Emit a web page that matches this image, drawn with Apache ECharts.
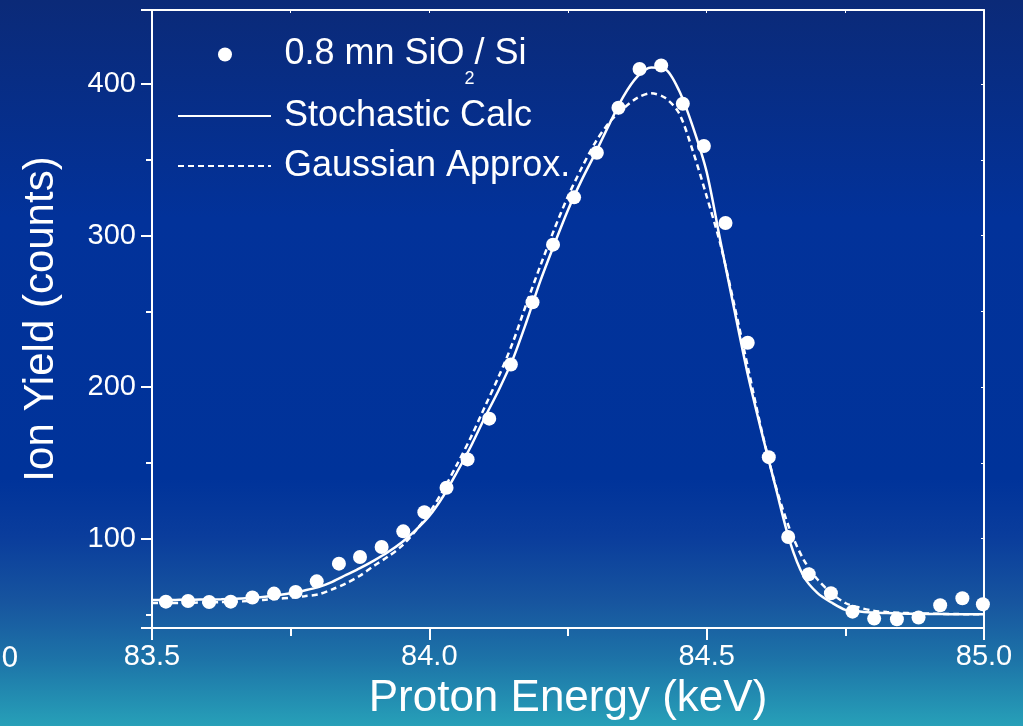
<!DOCTYPE html>
<html>
<head>
<meta charset="utf-8">
<script src="https://cdn.jsdelivr.net/npm/echarts@6/dist/echarts.min.js"></script>
<style>
  html, body { margin: 0; padding: 0; }
  #chart {
    width: 1023px; height: 726px;
    background: linear-gradient(to bottom, #0b2a78 0%, #02329a 30%, #00339a 66%, #0a3d9c 74%, #17559f 83%, #1d74a8 91%, #27a0b8 100%);
  }
</style>
</head>
<body>
<div id="chart"></div>
<script>
// Measured data points (proton energy keV, ion yield counts)
const energy = [83.525, 83.565, 83.603, 83.642, 83.681, 83.720, 83.759, 83.797, 83.837, 83.875,
  83.914, 83.953, 83.991, 84.031, 84.069, 84.108, 84.147, 84.186, 84.223, 84.261,
  84.302, 84.341, 84.379, 84.418, 84.457, 84.495, 84.534, 84.574, 84.612, 84.647,
  84.684, 84.724, 84.763, 84.802, 84.843, 84.882, 84.921, 84.961, 84.998];
const yieldCounts = [58.4, 58.8, 58.2, 58.4, 61.1, 63.7, 64.8, 71.8, 83.5, 87.9,
  94.5, 104.8, 117.5, 133.6, 152.3, 179.2, 215.0, 256.1, 294.1, 325.3,
  354.8, 384.5, 410.0, 412.4, 387.1, 359.2, 308.4, 229.3, 153.8, 101.1,
  76.5, 63.9, 51.8, 47.2, 46.8, 47.9, 56.0, 60.6, 56.7];

// Calculated curves
const calcEnergy = [83.500, 83.525, 83.550, 83.575, 83.600, 83.625, 83.650, 83.675, 83.700, 83.725,
  83.750, 83.775, 83.800, 83.825, 83.850, 83.875, 83.900, 83.925, 83.950, 83.975,
  84.000, 84.025, 84.050, 84.075, 84.100, 84.125, 84.150, 84.175, 84.200, 84.225,
  84.250, 84.275, 84.300, 84.325, 84.350, 84.375, 84.400, 84.425, 84.450, 84.475,
  84.500, 84.525, 84.550, 84.575, 84.600, 84.625, 84.650, 84.675, 84.700, 84.725,
  84.750, 84.775, 84.800, 84.825, 84.850, 84.875, 84.900, 84.925, 84.950, 84.975, 85.000];
const stochastic = [59.5, 59.5, 59.6, 59.7, 59.8, 60.0, 60.3, 60.8, 61.5, 62.6,
  64.0, 65.8, 68.0, 71.5, 76.0, 80.5, 85.5, 91.0, 97.5, 105.5,
  115, 128, 144, 161, 180, 198, 218, 243, 270, 294,
  317, 337, 355, 374, 392, 405, 411, 410, 396, 372,
  342, 296, 251, 207, 169, 133, 98, 75, 64, 57.8,
  53, 52, 51.2, 50.9, 50.6, 50.4, 50.3, 50.2, 50.1, 50.0, 50.0];
const gaussian = [57.5, 57.5, 57.6, 57.7, 57.9, 58.1, 58.4, 58.8, 59.5, 60.2,
  61.0, 62.0, 63.2, 66.5, 70.5, 75.5, 82.0, 88.0, 95.0, 105.0,
  117, 132, 149, 167, 187, 207, 229, 255, 280, 304,
  326, 345, 362, 375, 384, 391, 394, 391, 381, 356,
  326, 294, 254, 212, 170, 134, 106, 86, 73, 64,
  57.5, 54.5, 52.5, 51.5, 51.0, 50.7, 50.5, 50.3, 50.2, 50.1, 50.0];

const xTickLabels = ['83.5', '84.0', '84.5', '85.0'];
const yTickLabels = ['100', '200', '300', '400'];

const nameData = '0.8 mn SiO2/ Si';
const nameCalc = 'Stochastic Calc';
const nameGauss = 'Gaussian Approx.';

const FONT = '"Liberation Sans", Arial, sans-serif';
const chart = echarts.init(document.getElementById('chart'), null, { renderer: 'canvas' });

const pts = energy.map((e, i) => [e, yieldCounts[i]]);
const calcPts = calcEnergy.map((e, i) => [e, stochastic[i]]);
const gaussPts = calcEnergy.map((e, i) => [e, gaussian[i]]);

const legendBase = {
  orient: 'vertical', left: 177, padding: 0, itemWidth: 93, itemHeight: 14,
  selectedMode: false,
  textStyle: { color: '#fff', fontSize: 36, fontFamily: FONT, padding: [0, 0, 0, 8] }
};

chart.setOption({
  animation: false,
  backgroundColor: 'transparent',
  grid: { left: 152, right: 39, top: 10, bottom: 98 },
  legend: [
    Object.assign({}, legendBase, {
      left: 218, top: 21, data: [nameData],
      itemStyle: { opacity: 1 },
      formatter: () => '{m|0.8 mn SiO}{s|2}{m|/ Si}',
      textStyle: Object.assign({}, legendBase.textStyle, {
        rich: {
          m: { color: '#fff', fontSize: 36, fontFamily: FONT, lineHeight: 40 },
          s: { color: '#fff', fontSize: 18, fontFamily: FONT, lineHeight: 18, padding: [49, 0, 0, 0] }
        }
      })
    }),
    Object.assign({}, legendBase, { top: 98, data: [nameCalc], itemStyle: { opacity: 0 } }),
    Object.assign({}, legendBase, { top: 148, data: [nameGauss], itemStyle: { opacity: 0 } })
  ],
  xAxis: [{
    type: 'value', min: 83.5, max: 85.0, interval: 0.5,
    name: 'Proton Energy (keV)', nameLocation: 'middle', nameGap: 49,
    nameTextStyle: { color: '#fff', fontSize: 44, fontFamily: FONT },
    axisLine: { show: true, lineStyle: { color: '#fff', width: 2 } },
    axisTick: { show: true, length: 12, lineStyle: { color: '#fff', width: 2 } },
    minorTick: { show: true, splitNumber: 2, length: 8, lineStyle: { color: '#fff', width: 2 } },
    splitLine: { show: false },
    axisLabel: { color: '#fff', fontSize: 29, fontFamily: FONT, margin: 14,
      formatter: v => xTickLabels.find(t => Math.abs(parseFloat(t) - v) < 1e-6) || '' }
  }, {
    type: 'value', position: 'top', min: 83.5, max: 85.0, interval: 0.25,
    axisLine: { show: true, lineStyle: { color: '#fff', width: 2 } },
    axisTick: { show: true, inside: true, length: 3, lineStyle: { color: '#fff', width: 1 } },
    axisLabel: { show: false }, splitLine: { show: false }
  }],
  yAxis: [{
    type: 'value', min: 41, max: 449, splitNumber: 4,
    name: 'Ion Yield (counts)', nameLocation: 'middle', nameGap: 90,
    nameTextStyle: { color: '#fff', fontSize: 42, fontFamily: FONT },
    axisLine: { show: true, lineStyle: { color: '#fff', width: 2 } },
    axisTick: { show: true, length: 11, lineStyle: { color: '#fff', width: 2 } },
    minorTick: { show: true, splitNumber: 2, length: 6, lineStyle: { color: '#fff', width: 2 } },
    splitLine: { show: false },
    axisLabel: { color: '#fff', fontSize: 29, fontFamily: FONT, margin: 16,
      formatter: v => yTickLabels.find(t => Math.abs(parseFloat(t) - v) < 1e-6) || '' }
  }, {
    type: 'value', position: 'right', min: 41, max: 449, splitNumber: 4,
    axisLine: { show: true, lineStyle: { color: '#fff', width: 2 } },
    axisTick: { show: true, inside: true, length: 3, lineStyle: { color: '#fff', width: 1 } },
    minorTick: { show: true, splitNumber: 2, length: 3, lineStyle: { color: '#fff', width: 1 } },
    axisLabel: { show: false }, splitLine: { show: false }
  }],
  graphic: [{
    type: 'text', left: 1, top: 646,
    style: { text: '0', fill: '#fff', fontSize: 28, fontFamily: '"DejaVu Sans", sans-serif' }
  }],
  series: [{
    name: nameCalc, type: 'line', data: calcPts, symbol: 'none', smooth: 0.3,
    lineStyle: { color: '#fff', width: 2.5 }, itemStyle: { color: '#fff' }, z: 3
  }, {
    name: nameGauss, type: 'line', data: gaussPts, symbol: 'none', smooth: 0.3,
    lineStyle: { color: '#fff', width: 2.5, type: [6, 4] }, itemStyle: { color: '#fff' }, z: 3
  }, {
    name: nameData, type: 'scatter', data: pts, symbol: 'circle', symbolSize: 14,
    itemStyle: { color: '#fff', opacity: 1 }, z: 4
  }]
});
</script>
</body>
</html>
